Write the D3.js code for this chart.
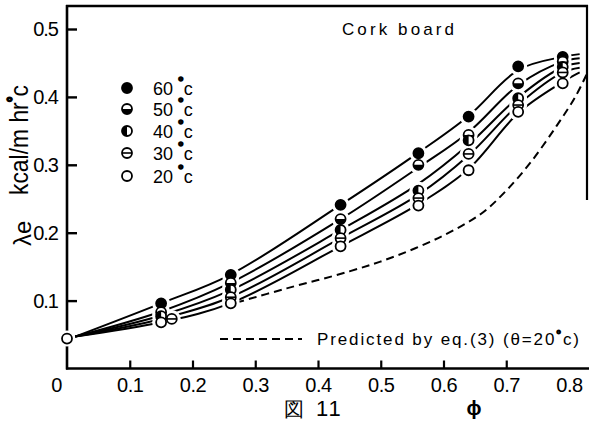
<!DOCTYPE html>
<html>
<head>
<meta charset="utf-8">
<script src="https://cdn.jsdelivr.net/npm/d3@7"></script>
<style>
  body { margin: 0; background: #fff; }
  text { font-family: "Liberation Sans", Arial, sans-serif; fill: #000; }
</style>
</head>
<body>
<svg id="chart" width="589" height="422"></svg>
<script>
// Measured effective conductivity λe of cork board vs. φ at five temperatures
const phi   = [0.15, 0.261, 0.436, 0.56, 0.64, 0.719, 0.79];
const phi30 = [0.167, 0.261, 0.436, 0.56, 0.64, 0.719, 0.79];
const lam60 = [0.096, 0.138, 0.241, 0.317, 0.371, 0.445, 0.459];
const lam50 = [0.083, 0.126, 0.220, 0.300, 0.344, 0.420, 0.452];
const lam40 = [0.077, 0.116, 0.204, 0.262, 0.336, 0.398, 0.444];
const lam30 = [0.073, 0.105, 0.192, 0.251, 0.316, 0.388, 0.436];
const lam20 = [0.068, 0.096, 0.180, 0.240, 0.292, 0.378, 0.420];
const temps = ["60", "50", "40", "30", "20"];

// Common value at φ = 0
const phiZero = 0, lamZero = 0.044;

// Smoothed curves drawn through each temperature's data
const fitPhi = [0.013, 0.15, 0.26, 0.436, 0.56, 0.64, 0.72, 0.79, 0.817];
const fit60 = [0.047, 0.096, 0.138, 0.241, 0.318, 0.372, 0.440, 0.459, 0.463];
const fit50 = [0.047, 0.084, 0.126, 0.220, 0.296, 0.348, 0.418, 0.452, 0.457];
const fit40 = [0.047, 0.078, 0.115, 0.204, 0.272, 0.330, 0.400, 0.444, 0.450];
const fit30 = [0.047, 0.073, 0.105, 0.192, 0.256, 0.314, 0.389, 0.436, 0.443];
const fit20 = [0.047, 0.068, 0.096, 0.180, 0.242, 0.294, 0.377, 0.422, 0.436];

// Prediction by eq.(3), θ = 20 °C
const phiPred = [0.27, 0.35, 0.45, 0.525, 0.6, 0.66, 0.7, 0.74, 0.78, 0.81, 0.828];
const lamPred = [0.097, 0.118, 0.143, 0.166, 0.196, 0.228, 0.262, 0.305, 0.357, 0.400, 0.433];

// Axis ticks and labels
const xTickVals  = [0.1, 0.2, 0.3, 0.4, 0.5, 0.6, 0.7];
const xLabelVals = [0, 0.1, 0.2, 0.3, 0.4, 0.5, 0.6, 0.7, 0.8];
const yTickVals  = [0.1, 0.2, 0.3, 0.4, 0.5];

const series = [
  { t: temps[0], xs: phi,   ys: lam60, fit: fit60, kind: "full"   },
  { t: temps[1], xs: phi,   ys: lam50, fit: fit50, kind: "bottom" },
  { t: temps[2], xs: phi,   ys: lam40, fit: fit40, kind: "left"   },
  { t: temps[3], xs: phi30, ys: lam30, fit: fit30, kind: "bar"    },
  { t: temps[4], xs: phi,   ys: lam20, fit: fit20, kind: "open"   }
];

const svg = d3.select("#chart");
const x = d3.scaleLinear().domain([0, 0.8]).range([67, 569]);
const y = d3.scaleLinear().domain([0, 0.5]).range([368.5, 29]);

const R = 5;
function marker(g, kind, cx, cy) {
  const sw = 1.8;
  if (kind === "full") {
    g.append("circle").attr("cx", cx).attr("cy", cy).attr("r", R)
      .attr("fill", "#000").attr("stroke", "#000").attr("stroke-width", sw);
    return;
  }
  g.append("circle").attr("cx", cx).attr("cy", cy).attr("r", R)
    .attr("fill", "#fff").attr("stroke", "#000").attr("stroke-width", sw);
  if (kind === "bottom") {
    g.append("path")
      .attr("d", `M${cx - R},${cy} A${R},${R} 0 0 0 ${cx + R},${cy} Z`)
      .attr("fill", "#000");
  } else if (kind === "left") {
    g.append("path")
      .attr("d", `M${cx},${cy - R} A${R},${R} 0 0 0 ${cx},${cy + R} Z`)
      .attr("fill", "#000");
  } else if (kind === "bar") {
    g.append("line").attr("x1", cx - R).attr("x2", cx + R)
      .attr("y1", cy).attr("y2", cy)
      .attr("stroke", "#000").attr("stroke-width", 1.6);
  }
}

// Frame and axes
const frame = svg.append("g").attr("fill", "none").attr("stroke", "#000");
frame.append("line").attr("x1", 67).attr("x2", 67).attr("y1", 5).attr("y2", 369.5).attr("stroke-width", 2.6);
frame.append("line").attr("x1", 66).attr("x2", 589).attr("y1", 368.5).attr("y2", 368.5).attr("stroke-width", 2.6);
frame.append("line").attr("x1", 66).attr("x2", 588).attr("y1", 6).attr("y2", 6).attr("stroke-width", 2.4);
frame.append("line").attr("x1", 587).attr("x2", 587).attr("y1", 5).attr("y2", 200).attr("stroke-width", 2.2);

const yAxis = d3.axisLeft(y).tickValues(yTickVals).tickSize(-10).tickPadding(9)
  .tickFormat(d3.format(".1f"));
const gy = svg.append("g").attr("transform", "translate(67,0)").call(yAxis);
gy.select(".domain").remove();
gy.selectAll(".tick line").attr("stroke-width", 2.4);
gy.selectAll(".tick text").attr("font-size", 20).attr("letter-spacing", -1)
  .attr("font-family", "Liberation Sans, Arial, sans-serif");

const xAxis = d3.axisBottom(x).tickValues(xLabelVals).tickSize(-8).tickPadding(9)
  .tickFormat(d => d === 0 ? "0" : d3.format(".1f")(d));
const gx = svg.append("g").attr("transform", "translate(0,368.5)").call(xAxis);
gx.select(".domain").remove();
gx.selectAll(".tick line")
  .attr("stroke-width", 2.2)
  .attr("display", d => xTickVals.includes(d) ? null : "none");
gx.selectAll(".tick text").attr("font-size", 20).attr("letter-spacing", -0.5)
  .attr("font-family", "Liberation Sans, Arial, sans-serif")
  .attr("dx", d => d === 0 ? -11 : 0);

// Curves
const line = d3.line().x(d => x(d[0])).y(d => y(d[1])).curve(d3.curveCatmullRom.alpha(0.5));
const curves = svg.append("g").attr("fill", "none").attr("stroke", "#000").attr("stroke-width", 2);
series.forEach(s => {
  curves.append("path").attr("d", line(fitPhi.map((v, j) => [v, s.fit[j]])));
});
curves.append("path")
  .attr("d", line(phiPred.map((v, j) => [v, lamPred[j]])))
  .attr("stroke-dasharray", "8,5");

// White gaps around the markers, then the markers
const halos = svg.append("g").attr("fill", "#fff");
const marks = svg.append("g");
series.forEach(s => {
  s.xs.forEach((v, j) => {
    halos.append("circle").attr("cx", x(v)).attr("cy", y(s.ys[j])).attr("r", R + 4);
  });
});
halos.append("circle").attr("cx", x(phiZero)).attr("cy", y(lamZero)).attr("r", R + 3);
series.forEach(s => {
  s.xs.forEach((v, j) => marker(marks, s.kind, x(v), y(s.ys[j])));
});
marker(marks, "open", x(phiZero), y(lamZero));

// Legend
const legY = [88, 109, 131, 153, 176];
series.forEach((s, i) => {
  marker(marks, s.kind, 127, legY[i]);
  const t = svg.append("text").attr("x", 153).attr("y", legY[i] + 7).attr("font-size", 18);
  t.append("tspan").text(s.t + " ");
  t.append("tspan").attr("dy", -8).attr("font-size", 14).attr("stroke", "#000")
    .attr("stroke-width", 1.6).text("°");
  t.append("tspan").attr("dy", 8).text("c");
});

svg.append("text").attr("x", 342).attr("y", 35).attr("font-size", 17)
  .attr("textLength", 112).attr("lengthAdjust", "spacing").text("Cork board");

// Legend for the predicted line
svg.append("line").attr("x1", 220).attr("x2", 302).attr("y1", 339).attr("y2", 339)
  .attr("stroke", "#000").attr("stroke-width", 2).attr("stroke-dasharray", "8,5");
const pt = svg.append("text").attr("x", 317).attr("y", 345).attr("font-size", 17)
  .attr("textLength", 262).attr("lengthAdjust", "spacing");
pt.append("tspan").text("Predicted by eq.(3) (θ=20");
pt.append("tspan").attr("dy", -6).attr("font-size", 12).attr("stroke", "#000")
  .attr("stroke-width", 1.4).text("°");
pt.append("tspan").attr("dy", 6).text("c)");

// Axis titles
const yt = svg.append("text").attr("transform", "translate(28,195) rotate(-90)")
  .attr("font-size", 25).attr("textLength", 110).attr("lengthAdjust", "spacingAndGlyphs");
yt.append("tspan").text("kcal/m hr");
yt.append("tspan").attr("dy", -9).attr("font-size", 16).attr("stroke", "#000")
  .attr("stroke-width", 1.8).text("°");
yt.append("tspan").attr("dy", 9).text("c");
svg.append("text").attr("transform", "translate(31,246) rotate(-90)")
  .attr("font-size", 24).text("λe");

svg.append("text").attr("x", 474).attr("y", 415).attr("font-size", 20)
  .attr("text-anchor", "middle").attr("font-weight", "bold").text("ϕ");
svg.append("text").attr("x", 284).attr("y", 416).attr("font-size", 20)
  .attr("font-family", "Noto Sans CJK JP, sans-serif").text("図");
svg.append("text").attr("x", 316).attr("y", 416).attr("font-size", 22)
  .attr("letter-spacing", 2).text("11");
</script>
</body>
</html>
